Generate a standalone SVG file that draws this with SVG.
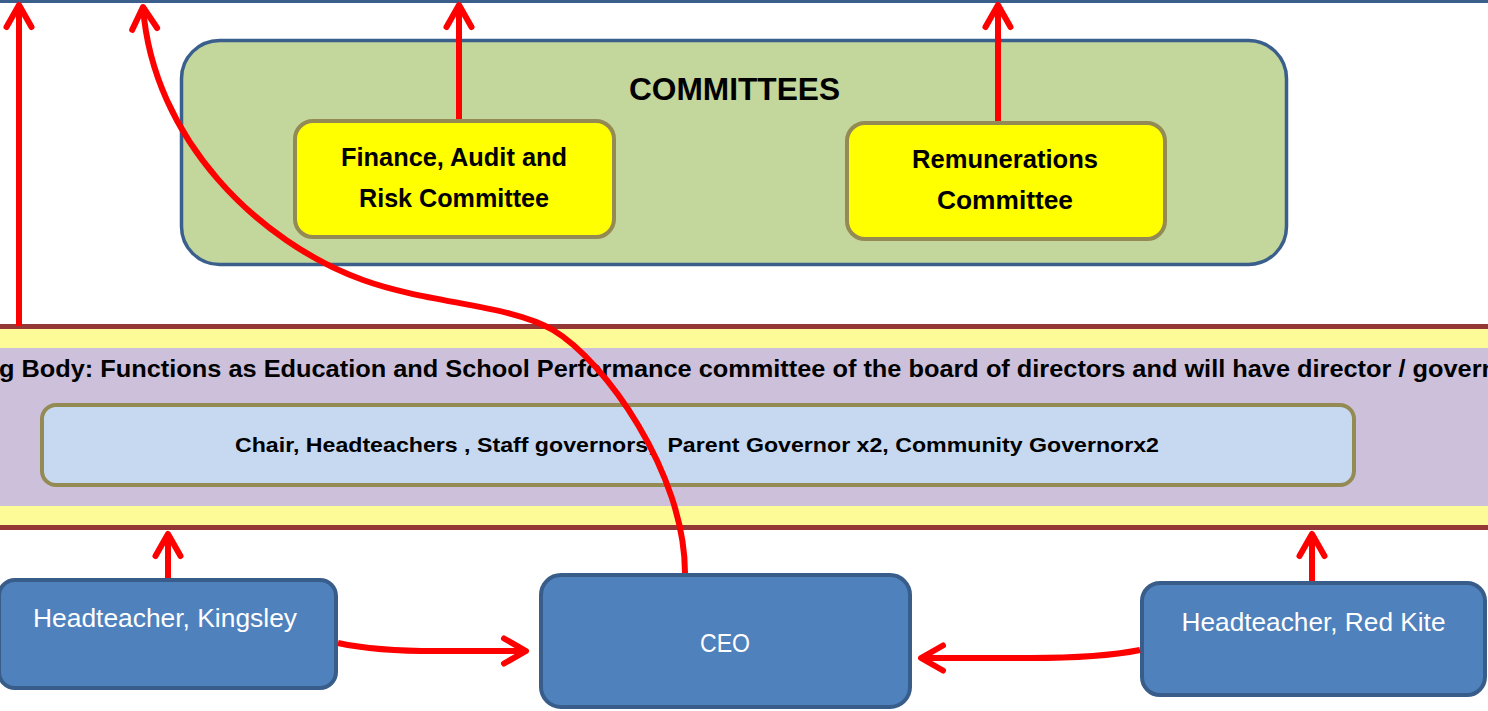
<svg xmlns="http://www.w3.org/2000/svg" width="1488" height="711" viewBox="0 0 1488 711">
  <defs>
    <style>
      .lbl { font-family: "Liberation Sans", Arial, sans-serif; }
      .bold { font-weight: bold; fill: #000000; }
      .white { fill: #FFFFFF; font-weight: normal; }
      .committee { fill: #FFFF00; stroke: #948A54; stroke-width: 4; }
      .staff { fill: #4F81BD; stroke: #385D8A; stroke-width: 4; }
      .link { fill: none; stroke: #FF0000; stroke-width: 6; }
    </style>
    <marker id="head" markerUnits="userSpaceOnUse" viewBox="-30 -20 40 40" markerWidth="40" markerHeight="40" refX="0" refY="0" orient="auto" overflow="visible">
      <path d="M-22,-12.5 L0,0 L-22,12.5" fill="none" stroke="#FF0000" stroke-width="6" stroke-linecap="round" stroke-linejoin="round"/>
    </marker>
  </defs>

  <rect width="1488" height="711" fill="#FFFFFF"/>

  <!-- lower edge of the board strip at the top -->
  <line x1="0" y1="1.5" x2="1488" y2="1.5" stroke="#3B5F8D" stroke-width="3"/>

  <!-- committees panel -->
  <g id="committees">
    <rect x="181.5" y="40.5" width="1105" height="224" rx="38" fill="#C3D69B" stroke="#3B5F8D" stroke-width="3.5"/>
    <text class="lbl bold" x="734.5" y="100" font-size="31" text-anchor="middle" textLength="211" lengthAdjust="spacingAndGlyphs">COMMITTEES</text>
  </g>

  <g id="finance">
    <rect class="committee" x="295" y="121" width="319" height="116" rx="18"/>
    <text class="lbl bold" x="454" y="166" font-size="25" text-anchor="middle" textLength="226" lengthAdjust="spacingAndGlyphs">Finance, Audit and</text>
    <text class="lbl bold" x="454" y="207" font-size="25" text-anchor="middle" textLength="190" lengthAdjust="spacingAndGlyphs">Risk Committee</text>
  </g>

  <g id="remunerations">
    <rect class="committee" x="847" y="123" width="318" height="116" rx="18"/>
    <text class="lbl bold" x="1005" y="168" font-size="25" text-anchor="middle" textLength="186" lengthAdjust="spacingAndGlyphs">Remunerations</text>
    <text class="lbl bold" x="1005" y="209" font-size="25" text-anchor="middle" textLength="136" lengthAdjust="spacingAndGlyphs">Committee</text>
  </g>

  <!-- governing body band -->
  <g id="governing-body">
    <rect x="-10" y="326.5" width="1510" height="201" fill="#FCFB97" stroke="#953735" stroke-width="5"/>
    <rect x="-10" y="348" width="1510" height="158" fill="#CCC0DA"/>
    <text class="lbl bold" x="-1" y="377" font-size="23" textLength="1498" lengthAdjust="spacingAndGlyphs">g Body: Functions as Education and School Performance committee of the board of directors and will have director / govern</text>
  </g>

  <g id="members">
    <rect x="42" y="405" width="1312" height="80" rx="14" fill="#C6D9F1" stroke="#948A54" stroke-width="4"/>
    <text class="lbl bold" x="697" y="452" font-size="21" text-anchor="middle" textLength="924" lengthAdjust="spacingAndGlyphs" xml:space="preserve">Chair, Headteachers , Staff governors,  Parent Governor x2, Community Governorx2</text>
  </g>

  <!-- staff row -->
  <g id="head-kingsley">
    <rect class="staff" x="-1" y="580" width="337" height="108" rx="16"/>
    <text class="lbl white" x="165" y="627" font-size="26" text-anchor="middle" textLength="264" lengthAdjust="spacingAndGlyphs">Headteacher, Kingsley</text>
  </g>

  <g id="ceo">
    <rect class="staff" x="541" y="575" width="369" height="132" rx="20"/>
    <text class="lbl white" x="725" y="652" font-size="26" text-anchor="middle" textLength="50" lengthAdjust="spacingAndGlyphs">CEO</text>
  </g>

  <g id="head-red-kite">
    <rect class="staff" x="1142" y="583" width="343" height="112" rx="18"/>
    <text class="lbl white" x="1313.5" y="631" font-size="26" text-anchor="middle" textLength="264" lengthAdjust="spacingAndGlyphs">Headteacher, Red Kite</text>
  </g>

  <!-- reporting lines -->
  <g id="connectors">
    <line class="link" x1="19" y1="326" x2="19" y2="5" marker-end="url(#head)"/>
    <line class="link" x1="459" y1="119" x2="459" y2="5" marker-end="url(#head)"/>
    <line class="link" x1="998" y1="121" x2="998" y2="5" marker-end="url(#head)"/>
    <line class="link" x1="168" y1="578" x2="168" y2="534" marker-end="url(#head)"/>
    <line class="link" x1="1312" y1="581" x2="1312" y2="534" marker-end="url(#head)"/>
    <path class="link" d="M338,643 Q380,652 450,651 L526,651" marker-end="url(#head)"/>
    <path class="link" d="M1140,650 Q1100,658 1030,658 L921,658" marker-end="url(#head)"/>
    <path class="link" d="M685,573 C685,473 604.6,360.6 553,330 C510,304.5 428.8,303.8 363,280 C259.6,242.6 153,140 143,7" marker-end="url(#head)"/>
  </g>
</svg>
